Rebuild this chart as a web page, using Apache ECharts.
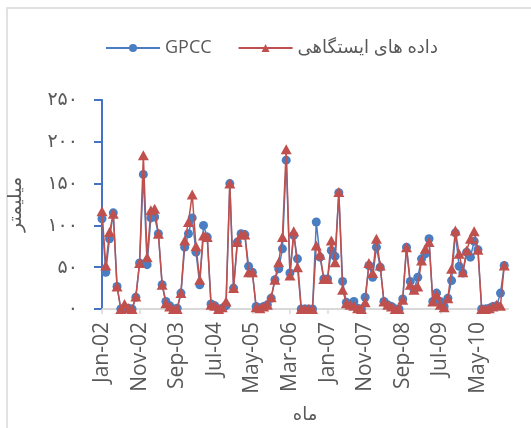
<!DOCTYPE html>
<html>
<head>
<meta charset="utf-8">
<script src="https://cdn.jsdelivr.net/npm/echarts@6/dist/echarts.min.js"></script>
<style>
  html, body { margin: 0; padding: 0; background: #ffffff; }
  #chart { width: 531px; height: 428px; }
</style>
</head>
<body>
<div id="chart"></div>
<script>
// Monthly precipitation (mm), Jan 2002 – Dec 2010
const monthNames = ['Jan','Feb','Mar','Apr','May','Jun','Jul','Aug','Sep','Oct','Nov','Dec'];
const firstYear = 2002;
const lastYear = 2010;

// GPCC gridded precipitation
const gpcc = [
  108, 44, 84, 115, 27, 0, 1, 1, 0, 14, 55, 161,
  53, 109, 110, 90, 29, 9, 4, 0, 1, 19, 74, 90,
  109, 68, 29, 100, 86, 6, 4, 0, 1, 4, 150, 25,
  80, 90, 89, 51, 44, 3, 1, 3, 5, 13, 35, 48,
  72, 178, 43, 88, 60, 0, 0, 0, 0, 104, 62, 36,
  36, 70, 63, 139, 33, 8, 5, 9, 1, 0, 14, 52,
  38, 74, 50, 9, 5, 3, 0, 0, 12, 74, 33, 23,
  38, 60, 66, 84, 9, 19, 9, 3, 13, 34, 91, 51,
  43, 68, 62, 81, 71, 0, 0, 1, 3, 4, 19, 52
];

// Station observations
const station = [
  117, 52, 92, 114, 27, 0, 6, 1, 0, 15, 55, 184,
  62, 118, 120, 90, 29, 7, 3, 0, 0, 19, 82, 104,
  137, 75, 35, 88, 86, 5, 4, 0, 2, 9, 150, 25,
  80, 89, 89, 44, 44, 2, 1, 3, 5, 14, 35, 56,
  86, 191, 40, 93, 50, 0, 0, 0, 0, 76, 65, 36,
  36, 82, 56, 140, 23, 7, 5, 4, 1, 0, 8, 55,
  43, 84, 52, 9, 5, 3, 0, 0, 11, 74, 29, 23,
  27, 58, 72, 80, 9, 17, 5, 2, 13, 48, 94, 66,
  44, 70, 84, 93, 71, 0, 0, 1, 3, 5, 4, 52
];

const yTicks = [0, 50, 100, 150, 200, 250];
const seriesNames = ['GPCC', 'داده های ایستگاهی'];
const xTitle = 'ماه';
const yTitle = 'میلیمتر';

// Month labels such as "Jan-02"; the axis runs one month past the last reading
const months = [];
for (let y = firstYear; y <= lastYear + 1; y++) {
  for (let m = 0; m < 12; m++) {
    months.push(monthNames[m] + '-' + String(y % 100).padStart(2, '0'));
    if (y === lastYear + 1) break;
  }
}

const persianDigits = '۰۱۲۳۴۵۶۷۸۹';
const toPersian = v => String(v).replace(/[0-9]/g, d => persianDigits[+d]);

const blue = '#4A7EC2';
const red = '#C0504D';
const textGray = '#595959';
const fontStack = '"Open Sans", "DejaVu Sans", sans-serif';

const chart = echarts.init(document.getElementById('chart'), null, { renderer: 'canvas' });

chart.setOption({
  animation: false,
  backgroundColor: '#ffffff',
  graphic: [{
    type: 'rect',
    shape: { x: 7, y: 8, width: 560, height: 460 },
    style: { fill: 'none', stroke: '#D9D9D9', lineWidth: 1.5 },
    silent: true,
    z: -1
  }],
  legend: {
    top: 34,
    left: 100,
    itemWidth: 54,
    itemHeight: 10,
    itemGap: 26,
    textStyle: { fontFamily: fontStack, fontSize: 18, color: textGray },
    data: seriesNames
  },
  grid: {
    left: 102, right: 23, top: 100, bottom: 119,
    containLabel: false,
    outerBoundsMode: 'none'
  },
  xAxis: {
    type: 'category',
    data: months,
    boundaryGap: false,
    name: xTitle,
    nameLocation: 'middle',
    nameGap: 97,
    nameTextStyle: { fontFamily: fontStack, fontSize: 18, color: textGray },
    axisLine: { lineStyle: { color: '#D9D9D9', width: 2 } },
    axisTick: { interval: 9, length: 5, lineStyle: { color: '#D9D9D9', width: 1.5 } },
    axisLabel: {
      interval: 9,
      rotate: 90,
      margin: 13,
      fontFamily: fontStack,
      fontSize: 21,
      color: textGray
    },
    splitLine: { show: false }
  },
  yAxis: {
    type: 'value',
    min: yTicks[0],
    max: yTicks[yTicks.length - 1],
    interval: yTicks[1] - yTicks[0],
    name: yTitle,
    nameLocation: 'middle',
    nameGap: 77,
    nameRotate: 90,
    nameTextStyle: { fontFamily: fontStack, fontSize: 19, color: textGray },
    axisLine: { show: true, lineStyle: { color: '#4472C4', width: 2 } },
    axisTick: { show: true, inside: false, length: 8, lineStyle: { color: '#4472C4', width: 2 } },
    axisLabel: {
      margin: 24,
      fontFamily: fontStack,
      fontSize: 19,
      color: textGray,
      formatter: v => toPersian(v)
    },
    splitLine: { show: false }
  },
  series: [
    {
      name: seriesNames[0],
      type: 'line',
      data: gpcc,
      symbol: 'circle',
      symbolSize: 9,
      showAllSymbol: true,
      lineStyle: { color: blue, width: 1.5 },
      itemStyle: { color: blue },
      z: 2
    },
    {
      name: seriesNames[1],
      type: 'line',
      data: station,
      symbol: 'triangle',
      symbolSize: [11, 10],
      showAllSymbol: true,
      lineStyle: { color: red, width: 1.5 },
      itemStyle: { color: red },
      z: 3
    }
  ]
});
</script>
</body>
</html>
